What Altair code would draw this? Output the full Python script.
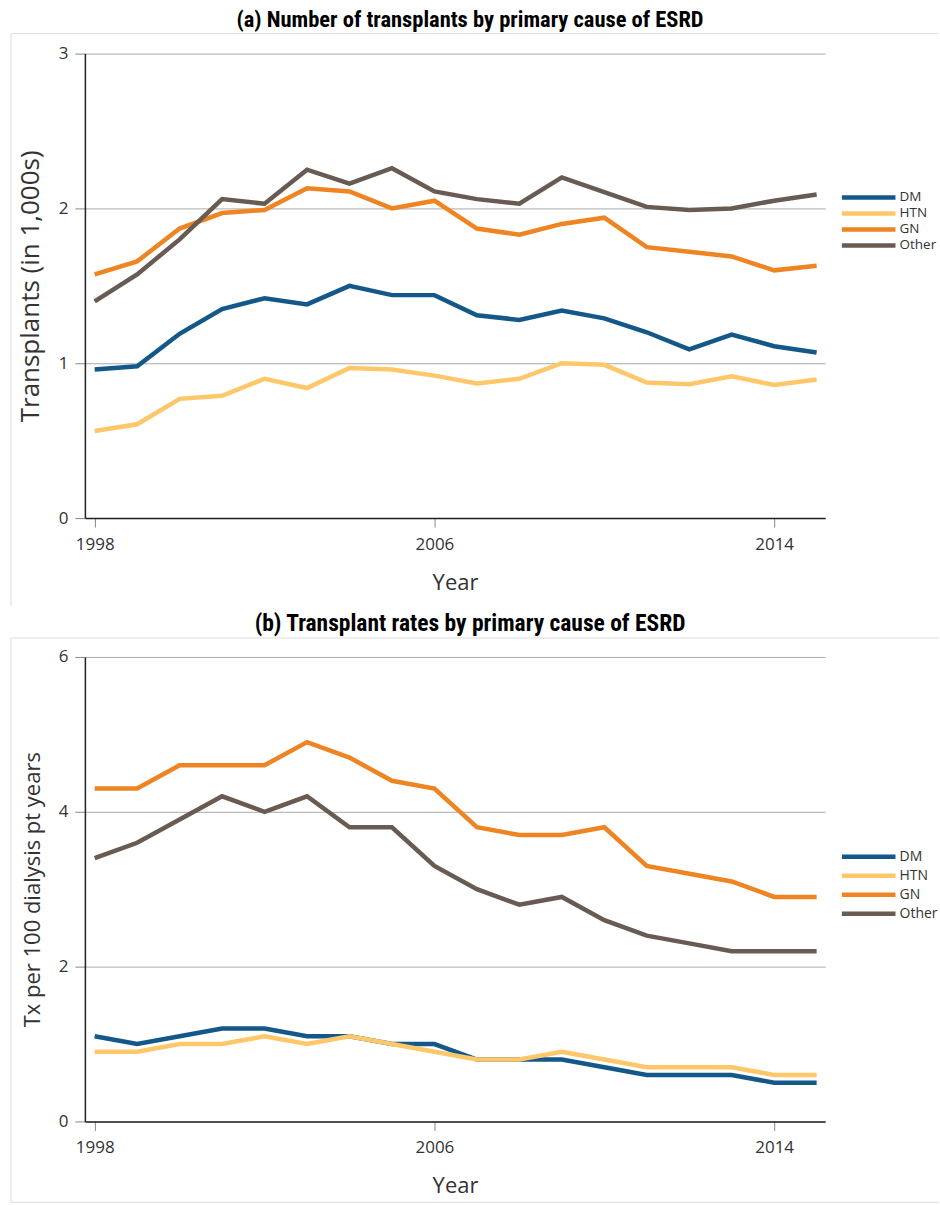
import altair as alt
import pandas as pd

years = list(range(1998, 2016))
causes = ["DM", "HTN", "GN", "Other"]
colors = ["#135889", "#fdc76a", "#ee8422", "#675b53"]

# Panel (a): number of transplants (in 1,000s)
a_dm = [0.96, 0.98, 1.19, 1.35, 1.42, 1.38, 1.50, 1.44, 1.44, 1.31, 1.28, 1.34, 1.29, 1.20, 1.09, 1.185, 1.11, 1.07]
a_htn = [0.563, 0.606, 0.77, 0.79, 0.90, 0.84, 0.97, 0.96, 0.92, 0.87, 0.90, 1.00, 0.99, 0.875, 0.865, 0.916, 0.86, 0.895]
a_gn = [1.574, 1.658, 1.87, 1.97, 1.99, 2.13, 2.11, 2.00, 2.05, 1.87, 1.83, 1.90, 1.94, 1.75, 1.72, 1.69, 1.60, 1.63]
a_other = [1.40, 1.574, 1.80, 2.06, 2.03, 2.25, 2.16, 2.26, 2.11, 2.06, 2.03, 2.20, 2.105, 2.01, 1.99, 2.00, 2.05, 2.09]

# Panel (b): transplant rates per 100 dialysis patient years
b_dm = [1.1, 1.0, 1.1, 1.2, 1.2, 1.1, 1.1, 1.0, 1.0, 0.8, 0.8, 0.8, 0.7, 0.6, 0.6, 0.6, 0.5, 0.5]
b_htn = [0.9, 0.9, 1.0, 1.0, 1.1, 1.0, 1.1, 1.0, 0.9, 0.8, 0.8, 0.9, 0.8, 0.7, 0.7, 0.7, 0.6, 0.6]
b_gn = [4.3, 4.3, 4.6, 4.6, 4.6, 4.9, 4.7, 4.4, 4.3, 3.8, 3.7, 3.7, 3.8, 3.3, 3.2, 3.1, 2.9, 2.9]
b_other = [3.4, 3.6, 3.9, 4.2, 4.0, 4.2, 3.8, 3.8, 3.3, 3.0, 2.8, 2.9, 2.6, 2.4, 2.3, 2.2, 2.2, 2.2]

x_ticks = [1998, 2006, 2014]
a_ticks = [0, 1, 2, 3]
b_ticks = [0, 2, 4, 6]

title_a = "(a)  Number of transplants by primary cause of ESRD"
title_b = "(b) Transplant rates by primary cause of ESRD"
ytitle_a = "Transplants (in 1,000s)"
ytitle_b = "Tx per 100 dialysis pt years"


def to_long(series):
    rows = []
    for k, (c, vals) in enumerate(zip(causes, series)):
        for yr, v in zip(years, vals):
            rows.append({"year": yr, "cause": c, "order": k, "value": v})
    return pd.DataFrame(rows)


df_a = to_long([a_dm, a_htn, a_gn, a_other])
df_b = to_long([b_dm, b_htn, b_gn, b_other])

FONT = "Open Sans"
TFONT = "Liberation Sans Narrow, Roboto Condensed, Arial Narrow, sans-serif"
W, H = 741, 465
one = pd.DataFrame({"k": [0]})


def panel(df, title, title_size, ytitle, ytitle_size, ytitle_pad, ymax, yvals,
          legend_y, row_pad, legend_font, box_top, box_bottom):
    lines = alt.Chart(df).mark_line(strokeWidth=4.5, strokeCap="butt").encode(
        x=alt.X(
            "year:Q",
            scale=alt.Scale(domain=[1997.77, 2015.2], nice=False, zero=False),
            axis=alt.Axis(
                values=x_ticks, format="d", title="Year", grid=False,
                domainColor="#222", domainWidth=1.5, tickColor="#888", tickSize=9,
                labelPadding=9, labelFont=FONT, labelFontSize=17, labelColor="#333",
                titleFont=FONT, titleFontSize=22, titleFontWeight="normal",
                titleColor="#333", titlePadding=20,
            ),
        ),
        y=alt.Y(
            "value:Q",
            scale=alt.Scale(domain=[0, ymax], nice=False),
            axis=alt.Axis(
                values=yvals, title=ytitle, grid=True, gridColor="#aaa",
                domainColor="#222", domainWidth=1.5, tickColor="#888", tickSize=10,
                labelPadding=7, labelFont=FONT, labelFontSize=17, labelColor="#333",
                titleFont=FONT, titleFontSize=ytitle_size, titleFontWeight="normal",
                titleColor="#333", titlePadding=ytitle_pad,
            ),
        ),
        color=alt.Color(
            "cause:N",
            scale=alt.Scale(domain=causes, range=colors),
            legend=alt.Legend(
                orient="none", legendX=795.5, legendY=legend_y, title=None,
                symbolType="M-10,0H2", symbolSize=80, symbolStrokeWidth=4.5,
                labelFont=FONT, labelFontSize=legend_font, labelColor="#333",
                rowPadding=row_pad, labelOffset=6,
            ),
        ),
        order=alt.Order("order:Q"),
    )
    rules = [
        alt.Chart(one).mark_rule(color="#ddd", strokeWidth=1).encode(
            x=alt.value(-74), x2=alt.value(855), y=alt.value(box_top)),
        alt.Chart(one).mark_rule(color="#ddd", strokeWidth=1).encode(
            x=alt.value(-74), y=alt.value(box_top), y2=alt.value(box_bottom)),
    ]
    if box_bottom < 548:
        rules.append(alt.Chart(one).mark_rule(color="#ddd", strokeWidth=1).encode(
            x=alt.value(-74), x2=alt.value(855), y=alt.value(box_bottom)))
    return alt.layer(*rules, lines).properties(
        width=W, height=H,
        title=alt.TitleParams(
            text=title, font=TFONT, fontSize=title_size, fontWeight="bold",
            color="#000", anchor="middle", dx=15, offset=2,
        ),
    )


chart_a = panel(df_a, title_a, 22.5, ytitle_a, 26, 15, 3, a_ticks, 137, -2, 13.5, -20, 553)
chart_b = panel(df_b, title_b, 23.5, ytitle_b, 22, 14, 6, b_ticks, 193, 1, 14, -19, 546)

chart = alt.vconcat(chart_a, chart_b, spacing=5).resolve_scale(
    color="independent"
).properties(
    padding={"left": 10, "top": 8, "right": 0, "bottom": 0},
    background="white",
).configure_view(stroke=None)

chart.save("out.html", embed_options={"renderer": "svg", "actions": False})
